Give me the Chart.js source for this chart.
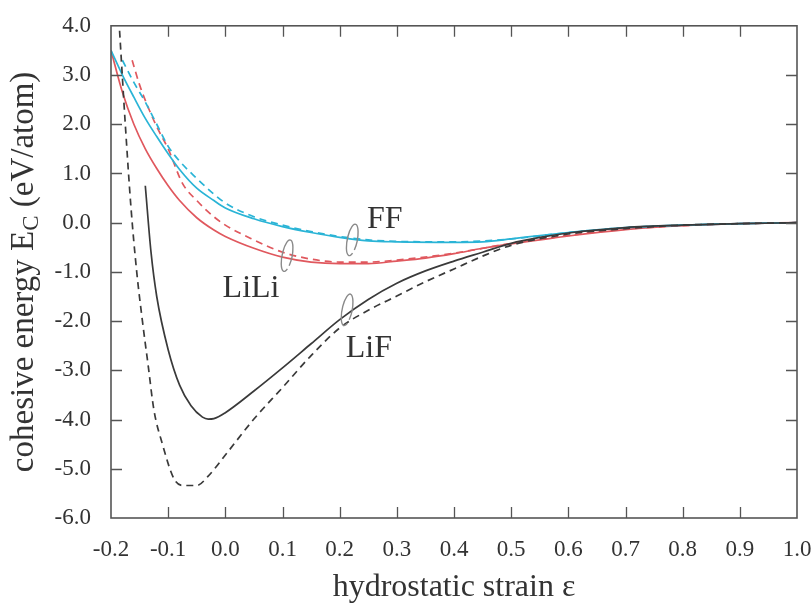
<!DOCTYPE html>
<html>
<head>
<meta charset="utf-8">
<script src="https://cdn.jsdelivr.net/npm/chart.js@4/dist/chart.umd.min.js"></script>
<style>
  html, body { margin: 0; padding: 0; background: #fff; }
  #wrap { width: 812px; height: 607px; }
</style>
</head>
<body>
<div id="wrap"><canvas id="cohesiveChart"></canvas></div>
<script>
// strain values and cohesive energies (eV/atom)
const lifSolidX = [-0.14, -0.13, -0.12, -0.1, -0.08, -0.06, -0.04, -0.03, -0.02, 0.0, 0.05, 0.1, 0.15, 0.2, 0.25, 0.3, 0.35, 0.4, 0.45, 0.5, 0.55, 0.6, 0.7, 0.8, 0.9, 1.0];
const lifSolidY = [0.75, -0.6, -1.5, -2.58, -3.3, -3.72, -3.95, -3.99, -3.98, -3.86, -3.42, -2.95, -2.46, -1.97, -1.56, -1.23, -0.98, -0.78, -0.6, -0.42, -0.3, -0.21, -0.1, -0.05, -0.02, 0];

const lifDashX = [-0.185, -0.175, -0.165, -0.155, -0.145, -0.135, -0.125, -0.11, -0.09, -0.075, -0.05, -0.03, 0.0, 0.05, 0.1, 0.15, 0.2, 0.25, 0.3, 0.35, 0.4, 0.45, 0.5, 0.6, 0.7, 0.8, 0.9, 1.0];
const lifDashY = [3.9, 2.0, 0.3, -1.0, -2.0, -2.9, -3.8, -4.5, -5.2, -5.34, -5.34, -5.15, -4.72, -3.99, -3.35, -2.7, -2.14, -1.78, -1.49, -1.2, -0.94, -0.68, -0.46, -0.23, -0.12, -0.05, -0.02, 0];

const liliSolidX = [-0.2, -0.18, -0.16, -0.14, -0.12, -0.1, -0.08, -0.05, -0.02, 0.0, 0.05, 0.1, 0.15, 0.2, 0.25, 0.3, 0.35, 0.4, 0.45, 0.5, 0.55, 0.6, 0.7, 0.8, 0.9, 1.0];
const liliSolidY = [3.5, 2.65, 2.0, 1.5, 1.1, 0.75, 0.45, 0.1, -0.15, -0.28, -0.52, -0.7, -0.8, -0.83, -0.83, -0.78, -0.72, -0.63, -0.52, -0.43, -0.35, -0.27, -0.14, -0.06, -0.02, 0];

const liliDashX = [-0.163, -0.15, -0.137, -0.12, -0.1, -0.075, -0.05, -0.02, 0.0, 0.05, 0.1, 0.15, 0.2, 0.25, 0.3, 0.4, 0.5, 0.6, 0.7, 0.8, 0.9, 1.0];
const liliDashY = [3.3, 2.8, 2.4, 1.95, 1.5, 0.8, 0.45, 0.12, -0.05, -0.35, -0.6, -0.74, -0.8, -0.8, -0.76, -0.62, -0.42, -0.26, -0.13, -0.06, -0.02, 0];

const ffSolidX = [-0.2, -0.18, -0.16, -0.14, -0.12, -0.1, -0.08, -0.05, -0.02, 0.0, 0.05, 0.1, 0.15, 0.2, 0.25, 0.3, 0.4, 0.45, 0.5, 0.55, 0.6, 0.7, 0.8, 0.9, 1.0];
const ffSolidY = [3.5, 3.0, 2.55, 2.12, 1.75, 1.4, 1.08, 0.7, 0.45, 0.3, 0.08, -0.08, -0.2, -0.3, -0.37, -0.39, -0.4, -0.39, -0.33, -0.26, -0.2, -0.1, -0.05, -0.02, 0];

const ffDashX = [-0.18, -0.16, -0.14, -0.12, -0.1, -0.08, -0.05, -0.02, 0.0, 0.05, 0.1, 0.15, 0.2, 0.25, 0.3, 0.4, 0.5, 0.6, 0.7, 0.8, 0.9, 1.0];
const ffDashY = [3.3, 2.85, 2.45, 2.0, 1.55, 1.25, 0.9, 0.58, 0.4, 0.12, -0.05, -0.18, -0.28, -0.35, -0.38, -0.39, -0.33, -0.2, -0.1, -0.05, -0.02, 0];

// curve labels (baseline position) and their loop markers, in data coordinates
const labelNames = ['FF', 'LiLi', 'LiF'];
const labelX = [0.279, 0.045, 0.251];
const labelY = [-0.1, -1.51, -2.72];
const loopX = [0.222, 0.108, 0.213];
const loopY = [-0.35, -0.67, -1.77];

const SERIF = '"Liberation Serif", "DejaVu Serif", serif';
const RED = '#e0585e';
const CYAN = '#2ab4d6';
const DARK = '#3a3a3a';

function pairs(xs, ys) {
    return xs.map((x, i) => ({ x: x, y: ys[i] }));
}

function fmt(v) {
    if (Math.abs(v) < 1e-9) return '0.0';
    return v.toFixed(1);
}

// inward tick marks, frame, annotations and the y title with subscript
const decorations = {
    id: 'decorations',
    afterDraw(chart) {
        const { ctx, scales: { x, y } } = chart;
        // frame drawn at the axis limits
        const left = x.getPixelForValue(x.min);
        const right = x.getPixelForValue(x.max);
        const top = y.getPixelForValue(y.max);
        const bottom = y.getPixelForValue(y.min);
        const len = 11;
        ctx.save();
        ctx.strokeStyle = '#555';
        ctx.lineWidth = 1.3;
        ctx.beginPath();
        x.ticks.forEach((t, i) => {
            if (i === 0 || i === x.ticks.length - 1) return;
            const px = Math.round(x.getPixelForValue(t.value)) + 0.5;
            ctx.moveTo(px, bottom); ctx.lineTo(px, bottom - len);
            ctx.moveTo(px, top); ctx.lineTo(px, top + len);
        });
        y.ticks.forEach((t, i) => {
            if (i === 0 || i === y.ticks.length - 1) return;
            const py = Math.round(y.getPixelForValue(t.value)) + 0.5;
            ctx.moveTo(left, py); ctx.lineTo(left + len, py);
            ctx.moveTo(right, py); ctx.lineTo(right - len, py);
        });
        ctx.stroke();
        ctx.lineWidth = 1.6;
        ctx.strokeRect(left, top, right - left, bottom - top);

        // loop markers
        ctx.strokeStyle = '#8a8a8a';
        ctx.lineWidth = 1.4;
        loopX.forEach((lx, i) => {
            const cx = x.getPixelForValue(lx);
            const cy = y.getPixelForValue(loopY[i]);
            ctx.beginPath();
            ctx.ellipse(cx, cy, 5, 16, 0.2, 0.3 * Math.PI, 2.2 * Math.PI);
            ctx.stroke();
        });

        // curve labels
        ctx.fillStyle = '#333';
        ctx.font = '32px ' + SERIF;
        ctx.textAlign = 'center';
        ctx.textBaseline = 'alphabetic';
        labelNames.forEach((name, i) => {
            ctx.fillText(name, x.getPixelForValue(labelX[i]), y.getPixelForValue(labelY[i]));
        });

        // y axis title: cohesive energy E_C (eV/atom)
        const big = '33px ' + SERIF;
        const small = '23px ' + SERIF;
        const p1 = 'cohesive energy E';
        const p2 = 'C';
        const p3 = ' (eV/atom)';
        ctx.font = big;
        const w1 = ctx.measureText(p1).width;
        const w3 = ctx.measureText(p3).width;
        ctx.font = small;
        const w2 = ctx.measureText(p2).width;
        const total = w1 + w2 + w3;
        ctx.translate(33, (top + bottom) / 2);
        ctx.rotate(-Math.PI / 2);
        ctx.textAlign = 'left';
        let cx = -total / 2;
        ctx.font = big;
        ctx.fillText(p1, cx, 0);
        cx += w1;
        ctx.font = small;
        ctx.fillText(p2, cx, 5);
        cx += w2;
        ctx.font = big;
        ctx.fillText(p3, cx, 0);
        ctx.restore();
    }
};

function line(data, color, dashed, order) {
    return {
        data: data,
        borderColor: color,
        borderWidth: 1.7,
        borderDash: dashed ? [7, 5] : [],
        pointRadius: 0,
        fill: false,
        cubicInterpolationMode: 'monotone',
        order: order
    };
}

const ctx = document.getElementById('cohesiveChart').getContext('2d');
const cohesiveChart = new Chart(ctx, {
    type: 'line',
    data: {
        datasets: [
            line(pairs(lifSolidX, lifSolidY), DARK, false, 1),
            line(pairs(lifDashX, lifDashY), DARK, true, 2),
            line(pairs(ffSolidX, ffSolidY), CYAN, false, 3),
            line(pairs(ffDashX, ffDashY), CYAN, true, 4),
            line(pairs(liliSolidX, liliSolidY), RED, false, 5),
            line(pairs(liliDashX, liliDashY), RED, true, 6)
        ]
    },
    options: {
        responsive: true,
        maintainAspectRatio: false,
        animation: false,
        layout: { padding: { top: 21, right: 0, left: 0, bottom: 0 } },
        plugins: {
            legend: { display: false },
            tooltip: { enabled: false }
        },
        scales: {
            x: {
                type: 'linear',
                min: -0.2,
                max: 1.0,
                grid: { display: false },
                border: { display: false },
                afterFit(scale) {
                    scale.height = 89;
                    scale.paddingLeft = 0;
                    scale.paddingRight = 15;
                },
                ticks: {
                    stepSize: 0.1,
                    padding: 10,
                    color: '#333',
                    font: { family: SERIF, size: 23 },
                    maxRotation: 0,
                    autoSkip: false,
                    callback: (v) => fmt(v)
                },
                title: {
                    display: true,
                    text: 'hydrostatic strain ε',
                    color: '#333',
                    font: { family: SERIF, size: 32 },
                    padding: { top: 4, bottom: 0 }
                }
            },
            y: {
                min: -6,
                max: 4,
                grid: { display: false },
                border: { display: false },
                afterFit(scale) { scale.width = 111; },
                ticks: {
                    stepSize: 1,
                    padding: 12,
                    color: '#333',
                    font: { family: SERIF, size: 23 },
                    callback: (v) => fmt(v)
                }
            }
        }
    },
    plugins: [decorations]
});
</script>
</body>
</html>
